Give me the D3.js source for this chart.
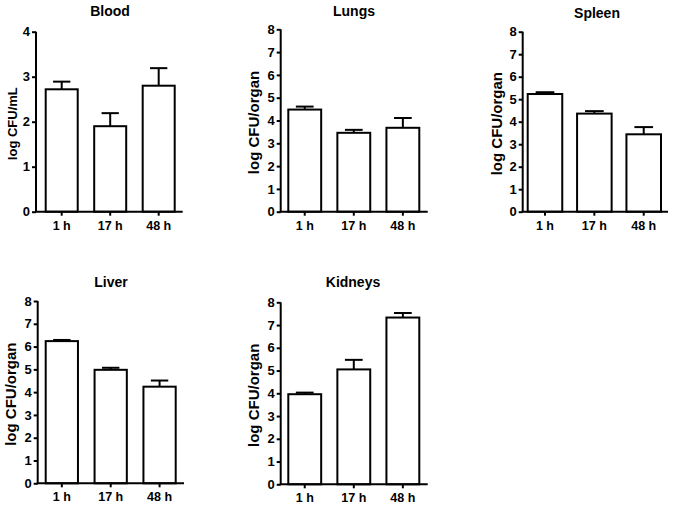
<!DOCTYPE html>
<html><head><meta charset="utf-8">
<script src="https://cdn.jsdelivr.net/npm/d3@7"></script>
<style>body{margin:0;background:#fff}svg{display:block}text{font-family:"Liberation Sans",Arial,sans-serif;font-weight:bold;fill:#000}</style>
</head><body>
<script>
const categories = ["1 h", "17 h", "48 h"];
const panelTitles = ["Blood", "Lungs", "Spleen", "Liver", "Kidneys"];
const yLabels = ["log CFU/mL", "log CFU/organ", "log CFU/organ", "log CFU/organ", "log CFU/organ"];
const yMax = [4, 8, 8, 8, 8];
const bloodMean = [2.72, 1.90, 2.80];
const bloodErr  = [0.17, 0.29, 0.39];
const lungsMean = [4.48, 3.46, 3.68];
const lungsErr  = [0.13, 0.13, 0.43];
const spleenMean = [5.23, 4.36, 3.44];
const spleenErr  = [0.08, 0.11, 0.32];
const liverMean = [6.24, 4.98, 4.24];
const liverErr  = [0.05, 0.09, 0.27];
const kidneysMean = [3.96, 5.05, 7.33];
const kidneysErr  = [0.07, 0.42, 0.20];
const means = [bloodMean, lungsMean, spleenMean, liverMean, kidneysMean];
const errs = [bloodErr, lungsErr, spleenErr, liverErr, kidneysErr];

// layout (pixel geometry of each panel)
const layout = [
  {ax: 36,    top: 31.7,  y0: 211.7, right: 182.7, b0: 45.7,  b1: 174.7, pi: 0.34, tx: 110,   ty: 16,  lx: 12},
  {ax: 280.7, top: 29.3,  y0: 211.7, right: 427.7, b0: 288.3, b1: 419.3, pi: 0.33, tx: 354,   ty: 16,  lx: 254},
  {ax: 522.7, top: 31.7,  y0: 211.7, right: 668,   b0: 527.7, b1: 661,   pi: 0.30, tx: 597,   ty: 18,  lx: 497},
  {ax: 37.7,  top: 301,   y0: 483.3, right: 184,   b0: 45.7,  b1: 175.7, pi: 0.34, tx: 111,   ty: 287, lx: 11},
  {ax: 280.7, top: 302.3, y0: 484.3, right: 427.7, b0: 288.3, b1: 419.3, pi: 0.33, tx: 353,   ty: 287, lx: 254}
];

const svg = d3.select("body").append("svg").attr("width", 673).attr("height", 506);

panelTitles.forEach((title, i) => {
  const L = layout[i];
  const g = svg.append("g");
  const y = d3.scaleLinear().domain([0, yMax[i]]).range([L.y0, L.top]);
  const x = d3.scaleBand().domain(categories).range([L.b0, L.b1]).paddingInner(L.pi).paddingOuter(0);
  const data = categories.map((c, k) => ({c, m: means[i][k], e: errs[i][k]}));

  // error bars (upper only)
  const cap = x.bandwidth() * 0.27;
  data.forEach(d => {
    const cx = x(d.c) + x.bandwidth() / 2;
    g.append("line").attr("x1", cx).attr("x2", cx).attr("y1", y(d.m)).attr("y2", y(d.m + d.e))
      .attr("stroke", "#000").attr("stroke-width", 2);
    g.append("line").attr("x1", cx - cap).attr("x2", cx + cap).attr("y1", y(d.m + d.e)).attr("y2", y(d.m + d.e))
      .attr("stroke", "#000").attr("stroke-width", 2);
  });
  // bars
  g.selectAll("rect.bar").data(data).enter().append("rect")
    .attr("x", d => x(d.c)).attr("width", x.bandwidth())
    .attr("y", d => y(d.m)).attr("height", d => y(0) - y(d.m))
    .attr("fill", "#fff").attr("stroke", "#000").attr("stroke-width", 2);

  // y axis
  const ya = g.append("g").attr("transform", `translate(${L.ax},0)`)
    .call(d3.axisLeft(y).ticks(yMax[i]).tickSize(4).tickPadding(2).tickFormat(d3.format("d")));
  ya.select(".domain").attr("stroke-width", 2).attr("d", `M0,${L.top}V${L.y0}`);
  ya.selectAll(".tick line").attr("stroke-width", 2);
  ya.selectAll("text").style("font-size", "13px").style("font-weight", "bold").style("font-family", "Liberation Sans, Arial, sans-serif");

  // x axis
  const xa = g.append("g").attr("transform", `translate(0,${L.y0})`)
    .call(d3.axisBottom(x).tickSize(4).tickPadding(5));
  xa.select(".domain").attr("stroke-width", 2).attr("d", `M${L.ax - 1},0H${L.right}`);
  xa.selectAll(".tick line").attr("stroke-width", 2);
  xa.selectAll("text").style("font-size", "12.5px").style("font-weight", "bold").style("font-family", "Liberation Sans, Arial, sans-serif");

  // title
  g.append("text").attr("x", L.tx).attr("y", L.ty).attr("text-anchor", "middle")
    .style("font-size", "14px").text(title);
  // y label
  const cy = (L.top + L.y0) / 2 + 2;
  g.append("text").attr("transform", `translate(${L.lx},${cy}) rotate(-90)`)
    .attr("text-anchor", "middle").attr("dy", "0.35em")
    .style("font-size", i === 0 ? "13px" : "15px").text(yLabels[i]);
});
</script>
</body></html>
